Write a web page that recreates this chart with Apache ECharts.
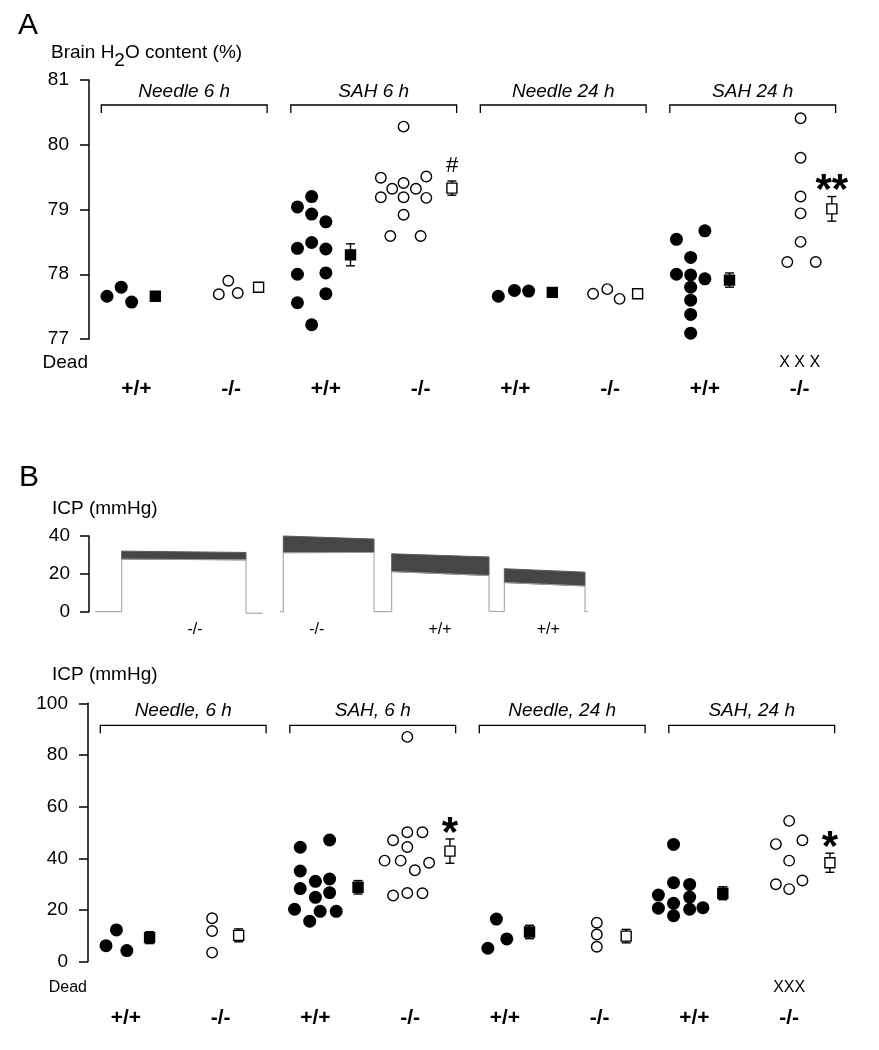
<!DOCTYPE html>
<html lang="en">
<head>
<meta charset="UTF-8">
<title>Brain water and ICP</title>
<script src="https://cdn.jsdelivr.net/npm/echarts@6/dist/echarts.min.js"></script>
<style>
    * { margin: 0; padding: 0 }
    html, body { height: 100%; background: #fff; }
</style>
</head>
<body>
<div id="main" style="width:879px;height:1050px"></div>
<script>
const FONT = '"Liberation Sans", Arial, Helvetica, sans-serif';

// groups and genotype columns
const groupsA = ['Needle 6 h', 'SAH 6 h', 'Needle 24 h', 'SAH 24 h'];
const groupsB = ['Needle, 6 h', 'SAH, 6 h', 'Needle, 24 h', 'SAH, 24 h'];
const genotypes = ['+/+', '-/-', '+/+', '-/-', '+/+', '-/-', '+/+', '-/-'];

// A: brain water content (%), individual animals as [column position, value]
const waterWT = [
    [0.19, 77.66], [0.34, 77.80], [0.45, 77.57],
    [2.20, 79.04], [2.35, 79.20], [2.35, 78.93], [2.50, 78.81], [2.20, 78.40], [2.35, 78.49],
    [2.50, 78.39], [2.20, 78.00], [2.50, 78.02], [2.50, 77.70], [2.20, 77.56], [2.35, 77.22],
    [4.32, 77.66], [4.49, 77.75], [4.64, 77.74],
    [6.20, 78.54], [6.50, 78.67], [6.35, 78.26], [6.20, 78.00], [6.35, 77.99], [6.50, 77.93],
    [6.35, 77.80], [6.35, 77.60], [6.35, 77.38], [6.35, 77.09]
];
const waterKO = [
    [1.37, 77.69], [1.47, 77.90], [1.57, 77.71],
    [3.32, 80.28], [3.08, 79.49], [3.56, 79.51], [3.20, 79.32], [3.32, 79.41], [3.45, 79.32],
    [3.08, 79.19], [3.32, 79.19], [3.56, 79.18], [3.32, 78.92], [3.18, 78.59], [3.50, 78.59],
    [5.32, 77.70], [5.47, 77.77], [5.60, 77.62],
    [7.51, 80.41], [7.51, 79.80], [7.51, 79.20], [7.51, 78.94], [7.51, 78.50], [7.37, 78.19], [7.67, 78.19]
];
// group means: [column position, mean, sem]
const waterMeanWT = [[0.70, 77.66, 0.04], [2.76, 78.30, 0.17], [4.89, 77.72, 0.04], [6.76, 77.91, 0.11]];
const waterMeanKO = [[1.79, 77.80, 0.06], [3.83, 79.33, 0.11], [5.79, 77.70, 0.05], [7.84, 79.01, 0.19]];
const waterSigKO = ['', '#', '', '**'];
const waterDead = [0, 0, 0, 0, 0, 0, 0, 3];

// B: example ICP recordings, [t start, t end, top start, top end, bottom start, bottom end]
const traceBands = [
    [32.7, 157, 32.0, 31.3, 27.8, 27.4],
    [194.3, 285, 40.0, 38.4, 31.2, 31.3],
    [302.7, 400, 30.6, 28.9, 21.2, 19.1],
    [415.3, 496, 22.7, 20.9, 15.4, 13.6]
];
const traceRun1 = [[6, 0], [32.7, 0], [32.7, 27.8], [157, 27.4], [157, -0.8], [173.7, -0.8]];
const traceRun2 = [[191, 0], [194.3, 0], [194.3, 31.2], [285, 31.3], [285, 0], [302.7, 0], [302.7, 21.2],
    [400, 19.1], [400, 0.3], [415.3, 0], [415.3, 15.4], [496, 13.6], [496, 0], [499, 0]];
const traceLabels = ['-/-', '-/-', '+/+', '+/+'];
const traceLabelAt = [106, 227.7, 351, 459.3];

// B: ICP (mmHg), individual animals
const icpWT = [
    [0.19, 6.2], [0.30, 12.3], [0.41, 4.3],
    [2.24, 44.3], [2.55, 47.1], [2.24, 35.1], [2.40, 31.1], [2.55, 32.0], [2.24, 28.3],
    [2.40, 24.9], [2.55, 26.7], [2.18, 20.3], [2.45, 19.5], [2.62, 19.5], [2.34, 15.7],
    [4.31, 16.5], [4.42, 8.8], [4.22, 5.2],
    [6.18, 45.4], [6.18, 30.6], [6.35, 29.9], [6.02, 25.8], [6.35, 25.0], [6.18, 22.6],
    [6.02, 20.7], [6.35, 20.3], [6.49, 20.9], [6.18, 17.8]
];
const icpKO = [
    [1.31, 16.8], [1.31, 11.9], [1.31, 3.5],
    [3.37, 87.0], [3.37, 50.1], [3.53, 50.1], [3.22, 47.0], [3.37, 44.4], [3.13, 39.1],
    [3.30, 39.1], [3.60, 38.3], [3.45, 35.4], [3.22, 25.6], [3.37, 26.6], [3.53, 26.5],
    [5.37, 15.1], [5.37, 10.5], [5.37, 5.8],
    [7.40, 54.5], [7.26, 45.5], [7.54, 47.0], [7.40, 39.1], [7.26, 30.0], [7.40, 28.1], [7.54, 31.4]
];
const icpMeanWT = [[0.65, 9.3, 2.3], [2.85, 28.8, 2.6], [4.66, 11.5, 2.6], [6.70, 26.5, 2.5]];
const icpMeanKO = [[1.59, 10.2, 2.5], [3.82, 42.8, 4.7], [5.68, 9.9, 2.6], [7.83, 38.3, 3.7]];
const icpSigKO = ['', '*', '', '*'];
const icpDead = [0, 0, 0, 0, 0, 0, 0, 3];


function yAxisStyle(grid, min, max, interval, margin) {
    return {
        gridIndex: grid, type: 'value', min: min, max: max, interval: interval,
        axisLine: { show: true, lineStyle: { color: '#000', width: 1.5 } },
        axisTick: { show: true, length: 9, lineStyle: { color: '#000', width: 1.5 } },
        axisLabel: { margin: margin, fontSize: 19, color: '#000', fontFamily: FONT },
        splitLine: { show: false }
    };
}

function genotypeAxis(grid, margin, shift) {
    return {
        gridIndex: grid, type: 'category', data: genotypes, position: 'bottom',
        axisLine: { show: false }, axisTick: { show: false }, splitLine: { show: false },
        axisLabel: {
            interval: 0, margin: margin, fontSize: 21, fontWeight: 'bold', color: '#000',
            fontFamily: FONT, padding: [0, shift, 0, 0]
        }
    };
}

function dots(xi, yi, data, filled) {
    return {
        type: 'scatter', xAxisIndex: xi, yAxisIndex: yi, data: data, clip: false,
        symbol: 'circle', symbolSize: filled ? 13 : 10.5,
        itemStyle: filled ? { color: '#000', opacity: 1 } : { color: '#fff', borderColor: '#000', borderWidth: 1.4, opacity: 1 }
    };
}

function means(xi, yi, data, filled, sigs) {
    return {
        type: 'custom', xAxisIndex: xi, yAxisIndex: yi, data: data,
        encode: { x: 0, y: 1 },
        renderItem: function (params, api) {
            const x = api.value(0), m = api.value(1), s = api.value(2);
            const c = api.coord([x, m]), hi = api.coord([x, m + s]), lo = api.coord([x, m - s]);
            const ln = { stroke: '#000', lineWidth: 1.4 };
            const kids = [
                { type: 'line', shape: { x1: c[0], y1: hi[1], x2: c[0], y2: lo[1] }, style: ln },
                { type: 'line', shape: { x1: c[0] - 4.5, y1: hi[1], x2: c[0] + 4.5, y2: hi[1] }, style: ln },
                { type: 'line', shape: { x1: c[0] - 4.5, y1: lo[1], x2: c[0] + 4.5, y2: lo[1] }, style: ln },
                {
                    type: 'rect', shape: { x: c[0] - 5, y: c[1] - 5, width: 10, height: 10 },
                    style: { fill: filled ? '#000' : '#fff', stroke: '#000', lineWidth: 1.4 }
                }
            ];
            const sig = sigs ? sigs[params.dataIndex] : '';
            if (sig === '#') {
                kids.push({
                    type: 'text', x: c[0], y: hi[1] - 15,
                    style: { text: sig, font: 'italic 22px ' + FONT, fill: '#000', textAlign: 'center', textVerticalAlign: 'middle', align: 'center', verticalAlign: 'middle' }
                });
            } else if (sig) {
                kids.push({
                    type: 'text', x: c[0], y: hi[1] - 5,
                    style: { text: sig, font: 'bold 42px ' + FONT, fill: '#000', textAlign: 'center', textVerticalAlign: 'middle', align: 'center', verticalAlign: 'middle' }
                });
            }
            return { type: 'group', children: kids };
        }
    };
}

function brackets(xi, yi, names, yTop, drop, gap) {
    return {
        type: 'custom', xAxisIndex: xi, yAxisIndex: yi, silent: true,
        data: names.map(function (n, i) { return [2 * i + 0.13, 2 * i + 1.88]; }),
        encode: { x: [0, 1] },
        renderItem: function (params, api) {
            const p0 = api.coord([api.value(0), yTop]), p1 = api.coord([api.value(1), yTop]);
            const y = p0[1] + drop;
            return {
                type: 'group', children: [
                    {
                        type: 'polyline', shape: { points: [[p0[0], y + 8], [p0[0], y], [p1[0], y], [p1[0], y + 8]] },
                        style: { stroke: '#000', lineWidth: 1.3, fill: null }
                    },
                    {
                        type: 'text', x: (p0[0] + p1[0]) / 2, y: y - gap,
                        style: { text: names[params.dataIndex], font: 'italic 19px ' + FONT, fill: '#000', textAlign: 'center', textVerticalAlign: 'middle', align: 'center', verticalAlign: 'middle' }
                    }
                ]
            };
        }
    };
}

function deaths(xi, yi, counts, yMin, below, sep, colShift, size) {
    return {
        type: 'custom', xAxisIndex: xi, yAxisIndex: yi, silent: true,
        data: counts.map(function (n, i) { return [i + 0.5 + colShift, n]; }),
        encode: { x: 0 },
        renderItem: function (params, api) {
            const kids = [];
            if (params.dataIndex === 0) {
                const o = api.coord([0, yMin]);
                kids.push({
                    type: 'text', x: o[0] - 1, y: o[1] + below,
                    style: { text: 'Dead', font: size + 'px ' + FONT, fill: '#000', textAlign: 'right', textVerticalAlign: 'middle', align: 'right', verticalAlign: 'middle' }
                });
            }
            const n = api.value(1);
            if (n > 0) {
                const p = api.coord([api.value(0), yMin]);
                kids.push({
                    type: 'text', x: p[0], y: p[1] + below,
                    style: { text: new Array(n).fill('X').join(sep), font: '16px ' + FONT, fill: '#000', textAlign: 'center', textVerticalAlign: 'middle', align: 'center', verticalAlign: 'middle' }
                });
            }
            return { type: 'group', children: kids };
        }
    };
}

const chart = echarts.init(document.getElementById('main'));
chart.setOption({
    animation: false,
    textStyle: { fontFamily: FONT },
    grid: [
        { left: 89, top: 80, width: 758, height: 259, outerBoundsMode: 'none' },
        { left: 89, top: 536, width: 500, height: 75.7, outerBoundsMode: 'none' },
        { left: 88, top: 703.3, width: 758, height: 258.4, outerBoundsMode: 'none' }
    ],
    xAxis: [
        { gridIndex: 0, type: 'value', min: 0, max: 8, show: false },
        genotypeAxis(0, 40, 0),
        { gridIndex: 1, type: 'value', min: 0, max: 500, show: false },
        { gridIndex: 2, type: 'value', min: 0, max: 8, show: false },
        genotypeAxis(2, 46, 19)
    ],
    yAxis: [
        yAxisStyle(0, 77, 81, 1, 20),
        yAxisStyle(1, 0, 40, 20, 19),
        yAxisStyle(2, 0, 100, 20, 20)
    ],
    graphic: [
        { type: 'text', x: 18, y: 26, style: { text: 'A', font: '30px ' + FONT, fill: '#000', textVerticalAlign: 'middle', verticalAlign: 'middle' } },
        {
            type: 'text', x: 51, y: 53,
            style: {
                text: 'Brain H{s|2}O content (%)', fontSize: 19, fontFamily: FONT, fill: '#000',
                textVerticalAlign: 'middle', verticalAlign: 'middle',
                rich: { s: { fontSize: 19, fontFamily: FONT, padding: [16, 0, 0, 0] } }
            }
        },
        { type: 'text', x: 19, y: 478, style: { text: 'B', font: '30px ' + FONT, fill: '#000', textVerticalAlign: 'middle', verticalAlign: 'middle' } },
        { type: 'text', x: 52, y: 509, style: { text: 'ICP (mmHg)', font: '19px ' + FONT, fill: '#000', textVerticalAlign: 'middle', verticalAlign: 'middle' } },
        { type: 'text', x: 52, y: 675, style: { text: 'ICP (mmHg)', font: '19px ' + FONT, fill: '#000', textVerticalAlign: 'middle', verticalAlign: 'middle' } }
    ],
    series: [
        // panel A
        dots(0, 0, waterWT, true),
        dots(0, 0, waterKO, false),
        means(0, 0, waterMeanWT, true, null),
        means(0, 0, waterMeanKO, false, waterSigKO),
        brackets(0, 0, groupsA, 81, 25, 13),
        deaths(0, 0, waterDead, 77, 23.5, ' ', 0, 19),

        // panel B, recordings
        {
            type: 'line', xAxisIndex: 2, yAxisIndex: 1, data: traceRun1, clip: false,
            symbol: 'none', lineStyle: { color: '#9c9c9c', width: 1 }
        },
        {
            type: 'line', xAxisIndex: 2, yAxisIndex: 1, data: traceRun2, clip: false,
            symbol: 'none', lineStyle: { color: '#9c9c9c', width: 1 }
        },
        {
            type: 'custom', xAxisIndex: 2, yAxisIndex: 1, data: traceBands,
            encode: { x: [0, 1], y: [2, 3, 4, 5] },
            renderItem: function (params, api) {
                const a = api.coord([api.value(0), api.value(2)]);
                const b = api.coord([api.value(1), api.value(3)]);
                const c = api.coord([api.value(1), api.value(5)]);
                const d = api.coord([api.value(0), api.value(4)]);
                return {
                    type: 'polygon', shape: { points: [a, b, c, d] },
                    style: { fill: '#464646', stroke: '#5a5a5a', lineWidth: 1 }
                };
            }
        },
        {
            type: 'custom', xAxisIndex: 2, yAxisIndex: 1, silent: true,
            data: traceLabelAt.map(function (t) { return [t, 0]; }),
            renderItem: function (params, api) {
                const p = api.coord([api.value(0), 0]);
                return {
                    type: 'text', x: p[0], y: p[1] + 18,
                    style: { text: traceLabels[params.dataIndex], font: '16px ' + FONT, fill: '#000', textAlign: 'center', textVerticalAlign: 'middle', align: 'center', verticalAlign: 'middle' }
                };
            }
        },

        // panel B, ICP by group
        dots(3, 2, icpWT, true),
        dots(3, 2, icpKO, false),
        means(3, 2, icpMeanWT, true, null),
        means(3, 2, icpMeanKO, false, icpSigKO),
        brackets(3, 2, groupsB, 100, 22, 15),
        deaths(3, 2, icpDead, 0, 26, '', -0.1, 16)
    ]
});
</script>
</body>
</html>
